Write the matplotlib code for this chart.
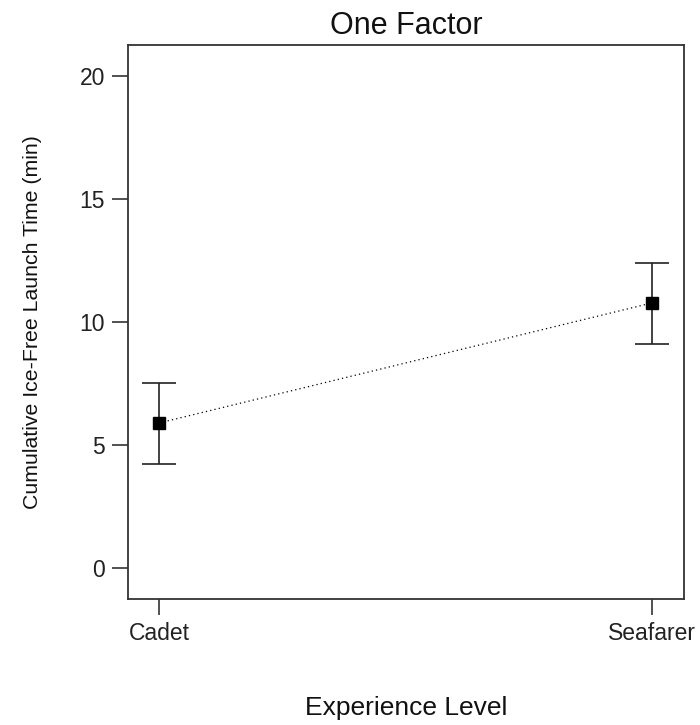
import numpy as np
import matplotlib.pyplot as plt

plt.rcParams['font.family'] = ['Liberation Sans', 'DejaVu Sans']

# group means with their interval ends
levels = ["Cadet", "Seafarer"]
means = [5.89, 10.77]
upper = [7.52, 12.40]
lower = [4.23, 9.11]

x = np.arange(1, len(levels) + 1)
m = np.array(means)
err = [m - np.array(lower), np.array(upper) - m]

fig = plt.figure(figsize=(7, 7.25), dpi=100)
ax = fig.add_axes([0.183, 0.174, 0.794, 0.764])

ax.plot(x, m, linestyle=(0, (1, 2.5)), color="black", linewidth=0.9)
ax.errorbar(x, m, yerr=err, fmt="s", color="black", markersize=8,
            ecolor="#222222", elinewidth=1.2, capsize=12, capthick=1.2)

ax.set_xlim(0.937, 2.065)
ax.set_ylim(-1.26, 21.26)
ax.set_xticks(x)
ax.set_xticklabels(levels)
ax.set_yticks([0, 5, 10, 15, 20])

for s in ax.spines.values():
    s.set_color("#333333")
    s.set_linewidth(1.3)
ax.tick_params(direction="out", length=11.5, width=1.2, color="#333333",
               labelsize=16.5, pad=5, labelcolor="#222222")

ax.set_title("One Factor", fontsize=22, pad=8, color="#111111")
ax.set_xlabel("Experience Level", fontsize=19, color="#111111")
ax.set_ylabel("Cumulative Ice-Free Launch Time (min)", fontsize=15.3,
              color="#111111")
ax.xaxis.set_label_coords(0.5, -0.175)
ax.yaxis.set_label_coords(-0.155, 0.5)

fig.savefig("out.png", dpi=100)
